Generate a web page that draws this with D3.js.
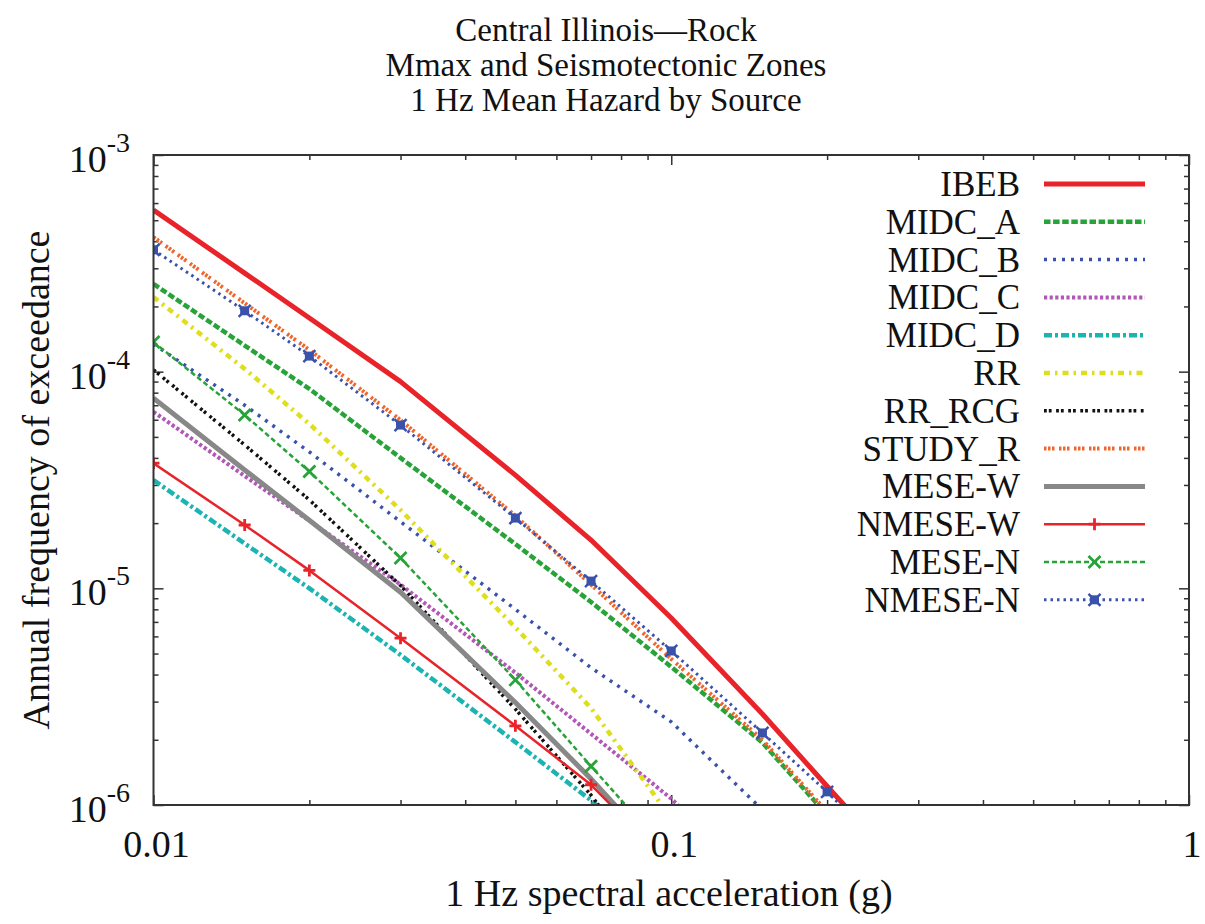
<!DOCTYPE html>
<html>
<head>
<meta charset="utf-8">
<script src="https://cdn.jsdelivr.net/npm/d3@7/dist/d3.min.js"></script>
<style>
  html, body { margin: 0; padding: 0; background: #fff; }
  svg { display: block; }
  text { font-family: "Liberation Serif", "DejaVu Serif", serif; fill: #111; }
</style>
</head>
<body>
<svg id="chart" width="1205" height="924"></svg>
<script>
// Spectral acceleration levels (g) at which hazard was computed
const sa = [0.01, 0.015, 0.02, 0.03, 0.05, 0.07, 0.1, 0.15, 0.2, 0.3];

// Annual frequency of exceedance per source (same order as sa)
const IBEB     = [5.57e-4, 2.85e-4, 1.77e-4, 9.0e-5, 3.33e-5, 1.67e-5, 7.3e-6, 2.63e-6, 1.22e-6, 4.2e-7];
const MIDC_A   = [2.54e-4, 1.32e-4, 8.33e-5, 4.0e-5, 1.60e-5, 8.65e-6, 4.34e-6, 1.94e-6, 9.0e-7];
const MIDC_B   = [1.34e-4, 7.0e-5, 4.26e-5, 2.03e-5, 8.0e-6, 4.3e-6, 2.42e-6, 9.5e-7];
const MIDC_C   = [6.53e-5, 3.30e-5, 2.05e-5, 1.04e-5, 4.08e-6, 2.13e-6, 1.07e-6, 4.1e-7];
const MIDC_D   = [3.16e-5, 1.61e-5, 1.00e-5, 4.93e-6, 1.95e-6, 1.05e-6, 5.0e-7];
const RR       = [2.21e-4, 1.03e-4, 5.74e-5, 2.30e-5, 6.6e-6, 2.8e-6, 8.7e-7];
const RR_RCG   = [1.02e-4, 4.59e-5, 2.56e-5, 1.03e-5, 2.77e-6, 1.11e-6, 3.6e-7];
const STUDY_R  = [4.18e-4, 2.07e-4, 1.26e-4, 5.98e-5, 2.16e-5, 1.04e-5, 4.72e-6, 2.0e-6, 9.3e-7];
const MESE_W   = [7.54e-5, 3.52e-5, 2.06e-5, 9.6e-6, 2.97e-6, 1.32e-6, 5.2e-7];
const NMESE_W  = [3.78e-5, 1.96e-5, 1.21e-5, 5.89e-6, 2.32e-6, 1.24e-6, 5.2e-7];
const MESE_N   = [1.37e-4, 6.31e-5, 3.46e-5, 1.38e-5, 3.78e-6, 1.51e-6, 5.8e-7];
const NMESE_N  = [3.65e-4, 1.91e-4, 1.18e-4, 5.67e-5, 2.11e-5, 1.08e-5, 5.14e-6, 2.15e-6, 1.15e-6, 4.4e-7];

const sourceNames = ["IBEB", "MIDC_A", "MIDC_B", "MIDC_C", "MIDC_D", "RR", "RR_RCG",
                     "STUDY_R", "MESE-W", "NMESE-W", "MESE-N", "NMESE-N"];
const sourceValues = [IBEB, MIDC_A, MIDC_B, MIDC_C, MIDC_D, RR, RR_RCG,
                      STUDY_R, MESE_W, NMESE_W, MESE_N, NMESE_N];

// Axis tick labels
const xTickLabels = ["0.01", "0.1", "1"];
const yTickExponents = ["-3", "-4", "-5", "-6"];

const titleLines = ["Central Illinois\u2014Rock", "Mmax and Seismotectonic Zones", "1 Hz Mean Hazard by Source"];

// Line styles for each source
const styles = [
  { color: "#e8242a", width: 5,   dash: null },
  { color: "#27a338", width: 4.5, dash: "6.5,2.6" },
  { color: "#3a52ab", width: 3.5, dash: "3,6" },
  { color: "#b257b7", width: 4,   dash: "3.2,2.4" },
  { color: "#1cb3b3", width: 4.5, dash: "8,3,3,3" },
  { color: "#dede1c", width: 4.5, dash: "6,5,2.5,5" },
  { color: "#111111", width: 3.5, dash: "2.8,2,2.8,4.5" },
  { color: "#f0652c", width: 4,   dash: "2.5,1.5,2.5,1.5,2.5,4.5" },
  { color: "#888888", width: 5,   dash: null },
  { color: "#e8242a", width: 2.5, dash: null,  marker: "plus" },
  { color: "#27a338", width: 2.5, dash: "5,3", marker: "cross" },
  { color: "#3a52ab", width: 3,   dash: "2.5,4", marker: "box" }
];

const svg = d3.select("#chart");
const plotL = 153.5, plotR = 1189, plotT = 155, plotB = 805;
const fontSize = 38;
const legendFont = 35;

const x = d3.scaleLog().domain([0.01, 1]).range([plotL, plotR]);
const y = d3.scaleLog().domain([1e-6, 1e-3]).range([plotB, plotT]);

// Title
svg.append("g").selectAll("text").data(titleLines).join("text")
  .attr("x", 606).attr("y", (d, i) => 41 + i * 35)
  .attr("text-anchor", "middle").attr("font-size", 33)
  .text(d => d);

// Clip region for curves
svg.append("defs").append("clipPath").attr("id", "plotClip")
  .append("rect").attr("x", plotL).attr("y", plotT)
  .attr("width", plotR - plotL).attr("height", plotB - plotT);

// Tick values
const xMinor = [], yMinor = [];
[0.01, 0.1].forEach(d => { for (let k = 2; k <= 9; k++) xMinor.push(d * k); });
[1e-6, 1e-5, 1e-4].forEach(d => { for (let k = 2; k <= 9; k++) yMinor.push(d * k); });
const xMajor = [0.01, 0.1, 1];
const yMajor = [1e-3, 1e-4, 1e-5, 1e-6];

const axisColor = "#333";
function styleAxis(g) {
  g.select(".domain").remove();
  g.selectAll(".tick line").attr("stroke", axisColor).attr("stroke-width", 1.5);
  g.selectAll(".tick text").remove();
}
// Inward ticks on all four sides
svg.append("g").attr("transform", `translate(0,${plotB})`)
  .call(d3.axisBottom(x).tickValues(xMinor).tickSizeInner(-5).tickSizeOuter(0)).call(styleAxis);
svg.append("g").attr("transform", `translate(0,${plotB})`)
  .call(d3.axisBottom(x).tickValues(xMajor).tickSizeInner(-10).tickSizeOuter(0)).call(styleAxis);
svg.append("g").attr("transform", `translate(0,${plotT})`)
  .call(d3.axisTop(x).tickValues(xMinor).tickSizeInner(-5).tickSizeOuter(0)).call(styleAxis);
svg.append("g").attr("transform", `translate(0,${plotT})`)
  .call(d3.axisTop(x).tickValues(xMajor).tickSizeInner(-10).tickSizeOuter(0)).call(styleAxis);
svg.append("g").attr("transform", `translate(${plotL},0)`)
  .call(d3.axisLeft(y).tickValues(yMinor).tickSizeInner(-5).tickSizeOuter(0)).call(styleAxis);
svg.append("g").attr("transform", `translate(${plotL},0)`)
  .call(d3.axisLeft(y).tickValues(yMajor).tickSizeInner(-10).tickSizeOuter(0)).call(styleAxis);
svg.append("g").attr("transform", `translate(${plotR},0)`)
  .call(d3.axisRight(y).tickValues(yMinor).tickSizeInner(-5).tickSizeOuter(0)).call(styleAxis);
svg.append("g").attr("transform", `translate(${plotR},0)`)
  .call(d3.axisRight(y).tickValues(yMajor).tickSizeInner(-10).tickSizeOuter(0)).call(styleAxis);

// Tick labels
svg.append("g").selectAll("text").data(xMajor).join("text")
  .attr("x", d => x(d) + 3).attr("y", plotB + 52)
  .attr("text-anchor", "middle").attr("font-size", fontSize)
  .text((d, i) => xTickLabels[i]);

const yl = svg.append("g").selectAll("text").data(yMajor).join("text")
  .attr("x", 72).attr("y", d => y(d) + 17)
  .attr("font-size", fontSize);
yl.append("tspan").text("10");
yl.append("tspan").attr("dy", -20).attr("font-size", 28).text((d, i) => yTickExponents[i]);
// Right-align each "10^n" label against x=130
yl.each(function () {
  const w = this.getComputedTextLength();
  d3.select(this).attr("x", 130 - w);
});

// Axis titles
svg.append("text")
  .attr("transform", `translate(49,${(plotT + plotB) / 2}) rotate(-90)`)
  .attr("text-anchor", "middle").attr("font-size", fontSize)
  .text("Annual frequency of exceedance");
svg.append("text")
  .attr("x", 669).attr("y", 906)
  .attr("text-anchor", "middle").attr("font-size", fontSize)
  .text("1 Hz spectral acceleration (g)");

// Marker drawing
function drawMarker(g, type, color, cx, cy) {
  const s = 6;
  if (type === "plus") {
    g.append("path").attr("d", `M${cx - s},${cy}H${cx + s}M${cx},${cy - s}V${cy + s}`)
      .attr("stroke", color).attr("stroke-width", 2.8).attr("fill", "none");
  } else if (type === "cross") {
    g.append("path").attr("d", `M${cx - s},${cy - s}L${cx + s},${cy + s}M${cx - s},${cy + s}L${cx + s},${cy - s}`)
      .attr("stroke", color).attr("stroke-width", 2.8).attr("fill", "none");
  } else if (type === "box") {
    g.append("rect").attr("x", cx - 4.5).attr("y", cy - 4.5).attr("width", 9).attr("height", 9)
      .attr("fill", color);
    g.append("path").attr("d", `M${cx - s},${cy - s}L${cx + s},${cy + s}M${cx - s},${cy + s}L${cx + s},${cy - s}`)
      .attr("stroke", color).attr("stroke-width", 2.5).attr("fill", "none");
  }
}

// Curves
const line = d3.line().x(d => x(d[0])).y(d => y(d[1]));
const plot = svg.append("g").attr("clip-path", "url(#plotClip)");
sourceValues.forEach((vals, i) => {
  const st = styles[i];
  const pts = vals.map((v, j) => [sa[j], v]);
  plot.append("path").datum(pts)
    .attr("d", line).attr("fill", "none")
    .attr("stroke", st.color).attr("stroke-width", st.width)
    .attr("stroke-dasharray", st.dash)
    .attr("stroke-linejoin", "round");
  if (st.marker) {
    const mg = plot.append("g");
    pts.filter(p => p[1] >= 1e-6 && p[1] <= 1e-3)
      .forEach(p => drawMarker(mg, st.marker, st.color, x(p[0]), y(p[1])));
  }
});

// Frame
svg.append("rect").attr("x", plotL).attr("y", plotT)
  .attr("width", plotR - plotL).attr("height", plotB - plotT)
  .attr("fill", "none").attr("stroke", axisColor).attr("stroke-width", 2);

// Legend
const legend = svg.append("g");
const rowY = i => 184 + i * 37.8;
sourceNames.forEach((name, i) => {
  const st = styles[i];
  legend.append("text").attr("x", 1020).attr("y", rowY(i) + 12)
    .attr("text-anchor", "end").attr("font-size", legendFont).text(name);
  legend.append("line").attr("x1", 1044).attr("x2", 1145)
    .attr("y1", rowY(i)).attr("y2", rowY(i))
    .attr("stroke", st.color).attr("stroke-width", st.width)
    .attr("stroke-dasharray", st.dash);
  if (st.marker) drawMarker(legend, st.marker, st.color, 1094.5, rowY(i));
});
</script>
</body>
</html>
